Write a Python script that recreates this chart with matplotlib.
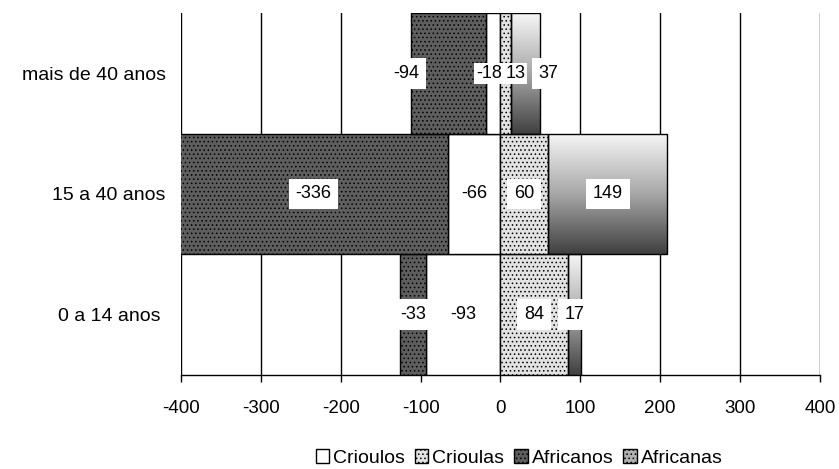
"""Pirâmide etária: crioulos e africanos por faixa de idade (barras empilhadas)."""
import matplotlib
matplotlib.use("Agg")
import matplotlib.pyplot as plt
import numpy as np
from matplotlib.colors import LinearSegmentedColormap
from matplotlib.patches import Patch

plt.rcParams["font.family"] = ["Liberation Sans", "DejaVu Sans"]
plt.rcParams["hatch.linewidth"] = 0.6

# ---- data --------------------------------------------------------------
AGE_GROUPS = ["0 a 14 anos ", "15 a 40 anos", "mais de 40 anos"]
CRIOULOS = [-93, -66, -18]      # men, left of zero
AFRICANOS = [-33, -336, -94]    # men, stacked beyond crioulos
CRIOULAS = [84, 60, 13]         # women, right of zero
AFRICANAS = [17, 149, 37]       # women, stacked beyond crioulas
X_TICKS = [-400, -300, -200, -100, 0, 100, 200, 300, 400]

W, H = 839, 469
fig = plt.figure(figsize=(W / 100, H / 100), dpi=100)
ax = fig.add_axes([181 / W, (H - 375) / H, (820 - 181) / W, (375 - 13) / H])

y = np.arange(len(AGE_GROUPS))
edge = dict(edgecolor="black", linewidth=1.0, height=1.0, zorder=3)

b_crl = ax.barh(y, CRIOULOS, color="white", **edge)
b_afo = ax.barh(y, AFRICANOS, left=CRIOULOS, color="#5e5e5e", hatch="....", **edge)
b_cra = ax.barh(y, CRIOULAS, color="#e2e2e2", hatch="....", **edge)
b_afa = ax.barh(y, AFRICANAS, left=CRIOULAS, color="none", **edge)

# africanas: grey gradient, light on top, dark at the bottom
grad = LinearSegmentedColormap.from_list("g", ["#f6f6f6", "#a8a8a8", "#404040"])
ramp = np.linspace(0, 1, 128).reshape(-1, 1)
for bar in b_afa:
    x0, y0 = bar.get_x(), bar.get_y()
    im = ax.imshow(ramp, cmap=grad, aspect="auto", origin="upper",
                   extent=(x0, x0 + bar.get_width(), y0, y0 + bar.get_height()),
                   zorder=2.9)
    im.set_clip_path(bar)

# value labels in white boxes at each segment centre; the crowded top row
# gets pushed apart the way the original spreadsheet did it
nudge = {("afo", 2): -53, ("crl", 2): -5, ("cra", 2): 12, ("afa", 2): 28.5}
tight = {("crl", 2), ("cra", 2)}          # "-18" and "13" sit back to back
for key, bars, vals in [("afo", b_afo, AFRICANOS), ("crl", b_crl, CRIOULOS),
                        ("cra", b_cra, CRIOULAS), ("afa", b_afa, AFRICANAS)]:
    for i, (bar, v) in enumerate(zip(bars, vals)):
        cx = bar.get_x() + bar.get_width() / 2 + nudge.get((key, i), 0)
        pad = 1.5 if (key, i) in tight else 5
        ax.text(cx, bar.get_y() + bar.get_height() / 2, f"{v}", ha="center",
                va="center", fontsize=13, zorder=5,
                bbox=dict(facecolor="white", edgecolor="none", pad=pad))

ax.set_xlim(-400, 400)
ax.set_ylim(-0.5, 2.5)
ax.set_xticks(X_TICKS)
ax.set_xticklabels([str(t) for t in X_TICKS], fontsize=13.5)
ax.set_yticks(y)
ax.set_yticklabels(AGE_GROUPS, fontsize=14)
ax.tick_params(axis="y", length=0, pad=11)
ax.tick_params(axis="x", length=5, width=1, color="black", pad=13)
ax.xaxis.grid(True, color="black", lw=1.0, zorder=0)
ax.set_axisbelow(True)
for s in ("top", "left", "right"):
    ax.spines[s].set_visible(False)
ax.spines["bottom"].set_linewidth(1.0)

handles = [Patch(facecolor="white", edgecolor="black", label="Crioulos"),
           Patch(facecolor="#e2e2e2", edgecolor="black", hatch="....", label="Crioulas"),
           Patch(facecolor="#5e5e5e", edgecolor="black", hatch="....", label="Africanos"),
           Patch(facecolor="#b0b0b0", edgecolor="black", hatch="....", label="Africanas")]
fig.legend(handles=handles, loc="center", bbox_to_anchor=(519 / W, 1 - 458 / H),
           ncol=4, frameon=False, fontsize=14, handlelength=0.7, handleheight=0.7,
           handletextpad=0.2, columnspacing=0.5, borderpad=0.1)

fig.savefig("out.png", dpi=100)
